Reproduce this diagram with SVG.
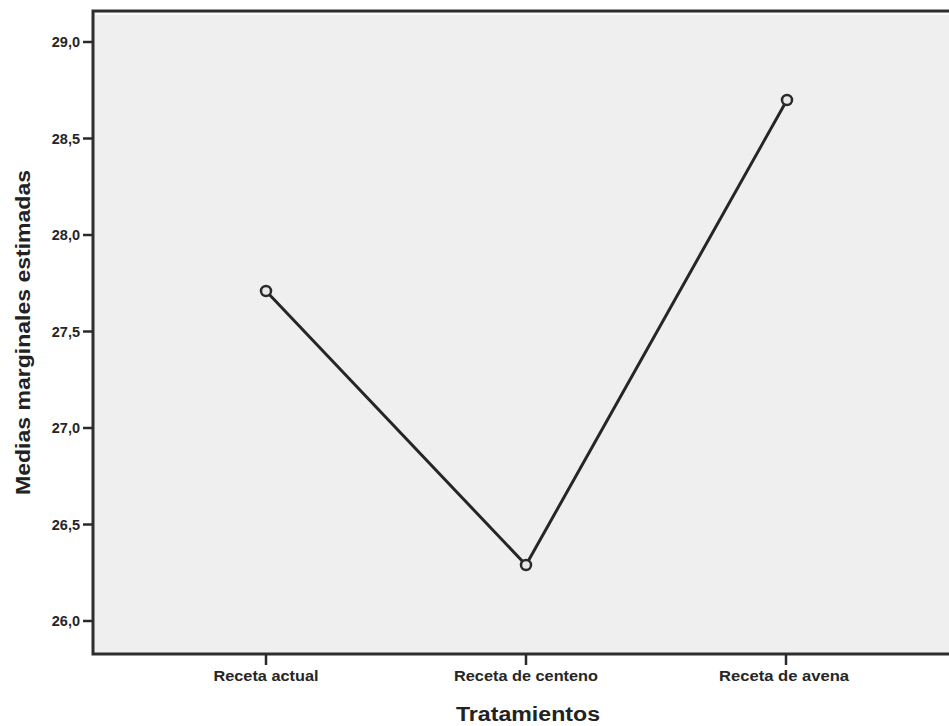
<svg xmlns="http://www.w3.org/2000/svg" width="949" height="726" viewBox="0 0 949 726">
<style>
.tick{stroke:#2a2a2a;stroke-width:2.5}
.tl{font-family:"Liberation Sans",Arial,sans-serif;font-size:14.5px;font-weight:bold;fill:#262626}
.xl{font-family:"Liberation Sans",Arial,sans-serif;font-size:14.5px;font-weight:bold;fill:#262626}
.ttl{font-family:"Liberation Sans",Arial,sans-serif;font-size:20px;font-weight:bold;fill:#222}
.pt{fill:#e8e8e8;stroke:#2a2a2a;stroke-width:2.5}
</style>
<rect width="949" height="726" fill="#fff"/>
<g id="plot-area">
<rect x="93" y="11" width="856" height="643" fill="#efefef"/>
<line x1="96" y1="14" x2="949" y2="14" stroke="#fff" stroke-width="1.5"/>
<path d="M949 11 H93 V654 H949" fill="none" stroke="#2e2e2e" stroke-width="3"/>
</g>
<g id="y-axis">
<line class="tick" x1="83" y1="42" x2="93" y2="42"/>
<line class="tick" x1="83" y1="138.5" x2="93" y2="138.5"/>
<line class="tick" x1="83" y1="235" x2="93" y2="235"/>
<line class="tick" x1="83" y1="331.5" x2="93" y2="331.5"/>
<line class="tick" x1="83" y1="428" x2="93" y2="428"/>
<line class="tick" x1="83" y1="524.5" x2="93" y2="524.5"/>
<line class="tick" x1="83" y1="621" x2="93" y2="621"/>
<g class="tl" text-anchor="end">
<text x="80" y="47">29,0</text>
<text x="80" y="143.5">28,5</text>
<text x="80" y="240">28,0</text>
<text x="80" y="336.5">27,5</text>
<text x="80" y="433">27,0</text>
<text x="80" y="529.5">26,5</text>
<text x="80" y="626">26,0</text>
</g>
<text class="ttl" transform="translate(30,332.5) rotate(-90)" text-anchor="middle" textLength="325" lengthAdjust="spacingAndGlyphs">Medias marginales estimadas</text>
</g>
<g id="x-axis">
<line class="tick" x1="266" y1="654" x2="266" y2="665"/>
<line class="tick" x1="526" y1="654" x2="526" y2="665"/>
<line class="tick" x1="786" y1="654" x2="786" y2="665"/>
<g class="xl" text-anchor="middle">
<text x="266" y="681" textLength="105" lengthAdjust="spacingAndGlyphs">Receta actual</text>
<text x="526" y="681" textLength="144" lengthAdjust="spacingAndGlyphs">Receta de centeno</text>
<text x="784" y="681" textLength="130" lengthAdjust="spacingAndGlyphs">Receta de avena</text>
</g>
<text class="ttl" x="528" y="721" text-anchor="middle" textLength="144" lengthAdjust="spacingAndGlyphs">Tratamientos</text>
</g>
<g id="connectors">
<polyline points="266,291 526,565 787,100" fill="none" stroke="#262626" stroke-width="3"/>
</g>
<g id="point-actual"><circle class="pt" cx="266" cy="291" r="5"/></g>
<g id="point-centeno"><circle class="pt" cx="526" cy="565" r="5"/></g>
<g id="point-avena"><circle class="pt" cx="787" cy="100" r="5"/></g>
</svg>
